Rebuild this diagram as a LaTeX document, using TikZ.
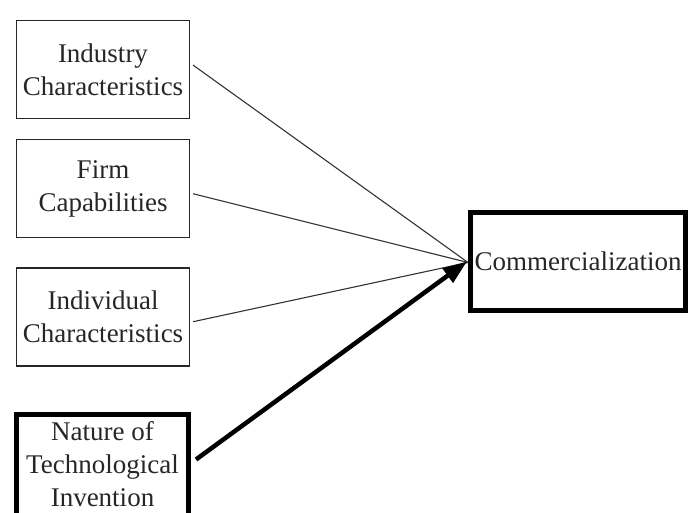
\documentclass[tikz,border=0pt]{standalone}
\usepackage{fontspec}
\setmainfont{Liberation Serif}
\usetikzlibrary{arrows.meta}
\begin{document}
\begin{tikzpicture}[x=1pt,y=-1pt,
  box/.style={draw=black!85, line width=1.1pt, minimum width=173pt, minimum height=98pt,
    inner sep=0pt, align=center, text=black!85, font=\fontsize{27}{33}\selectfont},
  boldbox/.style={box, draw=black, line width=5pt},
  thinline/.style={draw=black!80, line width=1.1pt},
  thickline/.style={draw=black, line width=4.5pt, -{Triangle[length=24pt,width=17pt]}}]
\useasboundingbox (0,0) rectangle (693,512);
\node[box] (ind) at (103,69.6) {Industry\\Characteristics};
\node[box] (firm) at (103,188.7) {Firm\\Capabilities};
\node[box] (indiv) at (103,317) {Individual\\Characteristics};
\node[boldbox, minimum width=172pt, minimum height=104pt, text depth=6pt] (nat) at (102.5,466.5) {Nature of\\Technological\\Invention};
\node[boldbox, minimum width=215pt, minimum height=98pt] (com) at (578,261.5) {Commercialization};
\draw[thinline] ([xshift=3pt,yshift=4.5pt]ind.east) -- ([yshift=-1pt]com.west);
\draw[thinline] ([xshift=3pt,yshift=-5pt]firm.east) -- ([yshift=-1pt]com.west);
\draw[thinline] ([xshift=3pt,yshift=-4.7pt]indiv.east) -- ([yshift=-1pt]com.west);
\draw[thickline] ([xshift=5pt,yshift=7pt]nat.east) -- ([xshift=-1pt]com.west);
\end{tikzpicture}
\end{document}
